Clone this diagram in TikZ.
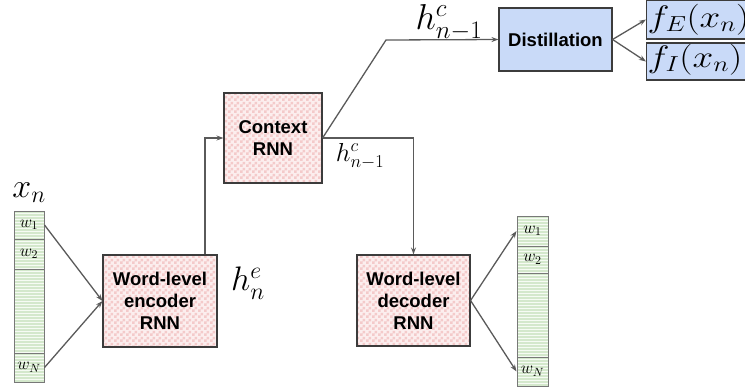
\documentclass[tikz,border=0pt]{standalone}
\usepackage{fix-cm}
\usepackage{fontspec}
\newfontfamily\boxfont{Liberation Sans}
\usetikzlibrary{patterns,arrows.meta}

% small checks for the RNN boxes
\pgfdeclarepatternformonly{pinkchecks}{\pgfpointorigin}{\pgfqpoint{6pt}{6pt}}{\pgfqpoint{6pt}{6pt}}{%
  \pgfpathrectangle{\pgfpointorigin}{\pgfqpoint{3pt}{3pt}}%
  \pgfpathrectangle{\pgfqpoint{3pt}{3pt}}{\pgfqpoint{3pt}{3pt}}%
  \pgfusepath{fill}}

\definecolor{linegray}{RGB}{90,90,90}
\definecolor{boxedge}{RGB}{60,60,60}
\definecolor{pinkbase}{RGB}{252,238,238}
\definecolor{pinkcheck}{RGB}{244,202,202}
\definecolor{greenbase}{RGB}{246,251,244}
\definecolor{greenline}{RGB}{212,232,204}
\definecolor{bluefill}{RGB}{201,218,248}
\definecolor{celledge}{RGB}{120,120,120}

\newcommand{\widemath}[1]{\scalebox{1.2}[1]{$#1$}}

\begin{document}
\begin{tikzpicture}[x=1pt,y=-1pt,
  wire/.style={draw=linegray, line width=1.3pt},
  arr/.style={wire, -{Stealth[length=7pt,width=5pt]}},
  rnnbox/.style={draw=boxedge, line width=1.1pt,
    preaction={fill=pinkbase}, pattern=pinkchecks, pattern color=pinkcheck,
    font=\boxfont\bfseries\fontsize{18.5}{22}\selectfont, align=center, inner sep=0pt},
  bluebox/.style={draw=boxedge, line width=1.1pt, fill=bluefill, inner sep=0pt},
  outbox/.style={bluebox, anchor=west, text width=108pt, align=left,
    inner xsep=1pt, font=\fontsize{31}{34}\selectfont},
  wordcell/.style={draw=celledge, line width=1pt, fill=greenbase,
    path picture={
      \foreach \k in {0,...,30}
        \draw[greenline, line width=1.5pt]
          ([yshift=-0.75pt-\k*3pt]path picture bounding box.north west) -- ++(40pt,0);
    },
    inner sep=0pt, font=\fontsize{17}{20}\selectfont},
  mathlbl/.style={inner sep=0pt, font=\fontsize{34}{38}\selectfont},
  mathsmall/.style={inner sep=0pt, font=\fontsize{26}{30}\selectfont},
]
\useasboundingbox (0,0) rectangle (745,389);
\clip (0,0) rectangle (745,389);

% input word column
\node[wordcell, minimum width=30, minimum height=28] (a1) at (29,225) {$w_1$};
\node[wordcell, minimum width=30, minimum height=30] (a2) at (29,254) {$w_2$};
\node[wordcell, minimum width=30, minimum height=84] (a3) at (29,311) {};
\node[wordcell, minimum width=30, minimum height=29] (aN) at (29,367.5) {$w_N$};

% output word column
\node[wordcell, minimum width=31, minimum height=30] (b1) at (532.5,231) {$w_1$};
\node[wordcell, minimum width=31, minimum height=27] (b2) at (532.5,259.5) {$w_2$};
\node[wordcell, minimum width=31, minimum height=84] (b3) at (532.5,315) {};
\node[wordcell, minimum width=31, minimum height=29] (bN) at (532.5,371.5) {$w_N$};

% recurrent networks
\node[rnnbox, minimum width=114, minimum height=92] (enc) at (160,301) {Word-level\\encoder\\RNN};
\node[rnnbox, minimum width=98, minimum height=90] (ctx) at (273,138) {Context\\RNN};
\node[rnnbox, minimum width=113, minimum height=91] (dec) at (413.5,300.5) {Word-level\\decoder\\RNN};

% distillation and its outputs
\node[bluebox, minimum width=113, minimum height=63,
  font=\boxfont\bfseries\fontsize{18.5}{22}\selectfont] (dist) at (555.5,39.5) {Distillation};
\node[outbox, minimum height=39, text height=22.5pt, text depth=7.5pt] (fe) at (646,19.5) {\widemath{f_E(x_n)}};
\node[outbox, minimum height=37, text height=21pt, text depth=10pt] (fi) at (646,61.5) {\widemath{f_I(x_n)}};

% labels
\node[mathlbl] (xn) at (29,193) {$x_n$};
\node[mathlbl] (he) at (248,283) {$h^e_n$};
\node[mathsmall] (hclow) at (360,156) {$h^c_{n-1}$};
\node[inner sep=0pt, font=\fontsize{36}{40}\selectfont, anchor=north] (hcup) at (449,4) {$h^c_{n-1}$};

% connectors
\draw[arr] (a1.east) -- (enc.west);
\draw[arr] (aN.east) -- (enc.west);
\draw[arr] ([xshift=45pt]enc.north) |- (ctx.west);
\draw[arr] (ctx.east) -| (dec.north);
\coordinate (bend) at (386,40);
\draw[arr] (ctx.east) -- (bend) -- (dist.west);
\draw[arr] (dist.east) -- (fe.west);
\draw[arr] (dist.east) -- (fi.west);
\draw[arr] (dec.east) -- (b1.west);
\draw[arr] (dec.east) -- (bN.west);
\end{tikzpicture}
\end{document}
